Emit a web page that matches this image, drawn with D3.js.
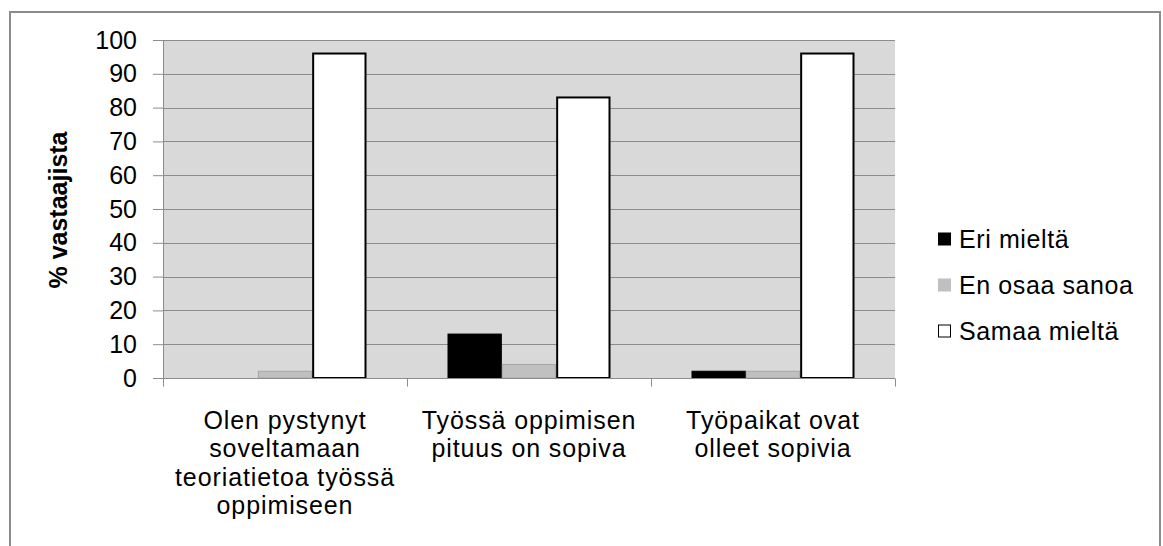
<!DOCTYPE html>
<html>
<head>
<meta charset="utf-8">
<title>Työssä oppiminen</title>
<style>
body, html {
  margin: 0;
  background: #fff;
}
svg text {
  font-family: "Liberation Sans", Arial, sans-serif;
  fill: #000;
}
</style>
<script src="https://cdn.jsdelivr.net/npm/d3@7"></script>
</head>
<body>
<script>
// data
var categories = [
  ["Olen pystynyt", "soveltamaan", "teoriatietoa työssä", "oppimiseen"],
  ["Työssä oppimisen", "pituus on sopiva"],
  ["Työpaikat ovat", "olleet sopivia"]
];
var seriesNames = ["Eri mieltä", "En osaa sanoa", "Samaa mieltä"];
var eriMielta = [0, 13, 2];
var enOsaaSanoa = [2, 4, 2];
var samaaMielta = [96, 83, 96];
var yTicks = [0, 10, 20, 30, 40, 50, 60, 70, 80, 90, 100];

var seriesValues = [eriMielta, enOsaaSanoa, samaaMielta];
var fills = ["#000000", "#c0c0c0", "#ffffff"];
var strokes = ["#000000", "#a6a6a6", "#000000"];
var strokeW = [1, 1, 2];

var W = 1163, H = 546;
var plot = {left: 163, right: 895, top: 40, bottom: 378};
var fontSize = 25;

var svg = d3.select("body").append("svg")
  .attr("width", W)
  .attr("height", H);

// outer chart border (bottom edge runs off the picture)
svg.append("path")
  .attr("d", "M10,560 L10,12 L1160,12 L1160,560")
  .attr("fill", "none")
  .attr("stroke", "#8c8c8c")
  .attr("stroke-width", 2);

var x0 = d3.scaleBand()
  .domain(d3.range(categories.length))
  .range([plot.left, plot.right]);

// bars of one group sit ~40px in from each category edge
var x1 = d3.scaleBand()
  .domain(d3.range(seriesNames.length))
  .range([40.5, x0.bandwidth() - 40.5]);

var y = d3.scaleLinear()
  .domain([0, 100])
  .range([plot.bottom, plot.top]);

// plot background
svg.append("rect")
  .attr("x", plot.left)
  .attr("y", plot.top)
  .attr("width", plot.right - plot.left)
  .attr("height", plot.bottom - plot.top)
  .attr("fill", "#d9d9d9");

// gridlines
svg.append("g")
  .selectAll("line")
  .data(yTicks.filter(function(d) { return d > 0; }))
  .enter().append("line")
  .attr("x1", plot.left)
  .attr("x2", plot.right)
  .attr("y1", function(d) { return Math.round(y(d)) + 0.5; })
  .attr("y2", function(d) { return Math.round(y(d)) + 0.5; })
  .attr("stroke", "#8c8c8c")
  .attr("stroke-width", 1);

// bars
var groups = svg.append("g")
  .selectAll("g")
  .data(categories)
  .enter().append("g")
  .attr("transform", function(d, i) { return "translate(" + x0(i) + ",0)"; });

groups.selectAll("rect")
  .data(function(d, i) {
    return seriesValues.map(function(vals, s) { return {s: s, v: vals[i]}; });
  })
  .enter().append("rect")
  .filter(function(d) { return d.v > 0; })
  .attr("x", function(d) { return x1(d.s) + strokeW[d.s] / 2; })
  .attr("y", function(d) { return y(d.v); })
  .attr("width", function(d) { return x1.bandwidth() - strokeW[d.s]; })
  .attr("height", function(d) { return y(0) - y(d.v); })
  .attr("fill", function(d) { return fills[d.s]; })
  .attr("stroke", function(d) { return strokes[d.s]; })
  .attr("stroke-width", function(d) { return strokeW[d.s]; });

// y axis
var yAxis = svg.append("g")
  .attr("transform", "translate(" + plot.left + ",0)")
  .call(d3.axisLeft(y).tickValues(yTicks).tickSize(10).tickPadding(16));
yAxis.select(".domain").attr("stroke", "#8c8c8c");
yAxis.selectAll(".tick line").attr("stroke", "#8c8c8c");
yAxis.selectAll(".tick text")
  .attr("font-size", fontSize)
  .attr("font-family", "Liberation Sans, Arial, sans-serif")
  .attr("fill", "#000");

// x axis
var xAxisG = svg.append("g")
  .attr("transform", "translate(0," + (plot.bottom + 0.5) + ")");
xAxisG.append("line")
  .attr("x1", plot.left)
  .attr("x2", plot.right)
  .attr("stroke", "#8c8c8c");
xAxisG.selectAll("line.tk")
  .data(d3.range(categories.length + 1))
  .enter().append("line")
  .attr("class", "tk")
  .attr("x1", function(i) { return Math.round(plot.left + i * x0.bandwidth()) + 0.5; })
  .attr("x2", function(i) { return Math.round(plot.left + i * x0.bandwidth()) + 0.5; })
  .attr("y1", 0)
  .attr("y2", 8)
  .attr("stroke", "#8c8c8c");

// category labels
svg.append("g")
  .selectAll("text")
  .data(categories)
  .enter().append("text")
  .attr("text-anchor", "middle")
  .attr("font-size", fontSize)
  .attr("letter-spacing", 0.9)
  .attr("x", function(d, i) { return x0(i) + x0.bandwidth() / 2; })
  .attr("y", 429)
  .selectAll("tspan")
  .data(function(d) { return d; })
  .enter().append("tspan")
  .attr("x", function() { return d3.select(this.parentNode).attr("x"); })
  .attr("dy", function(d, i) { return i === 0 ? 0 : 28.3; })
  .text(function(d) { return d; });

// y axis title
svg.append("text")
  .attr("transform", "translate(67,210) rotate(-90)")
  .attr("text-anchor", "middle")
  .attr("font-size", fontSize)
  .attr("font-weight", "bold")
  .text("% vastaajista");

// legend
var legend = svg.append("g")
  .selectAll("g")
  .data(seriesNames)
  .enter().append("g")
  .attr("transform", function(d, i) { return "translate(938," + (239 + i * 46) + ")"; });

legend.append("rect")
  .attr("x", 0.5)
  .attr("y", -6)
  .attr("width", 12)
  .attr("height", 12)
  .attr("fill", function(d, i) { return fills[i]; })
  .attr("stroke", function(d, i) { return i === 1 ? "#c0c0c0" : "#000"; })
  .attr("stroke-width", 1);

legend.append("text")
  .attr("x", 21)
  .attr("y", 9)
  .attr("font-size", fontSize)
  .attr("letter-spacing", 0.6)
  .text(function(d) { return d; });
</script>
</body>
</html>
